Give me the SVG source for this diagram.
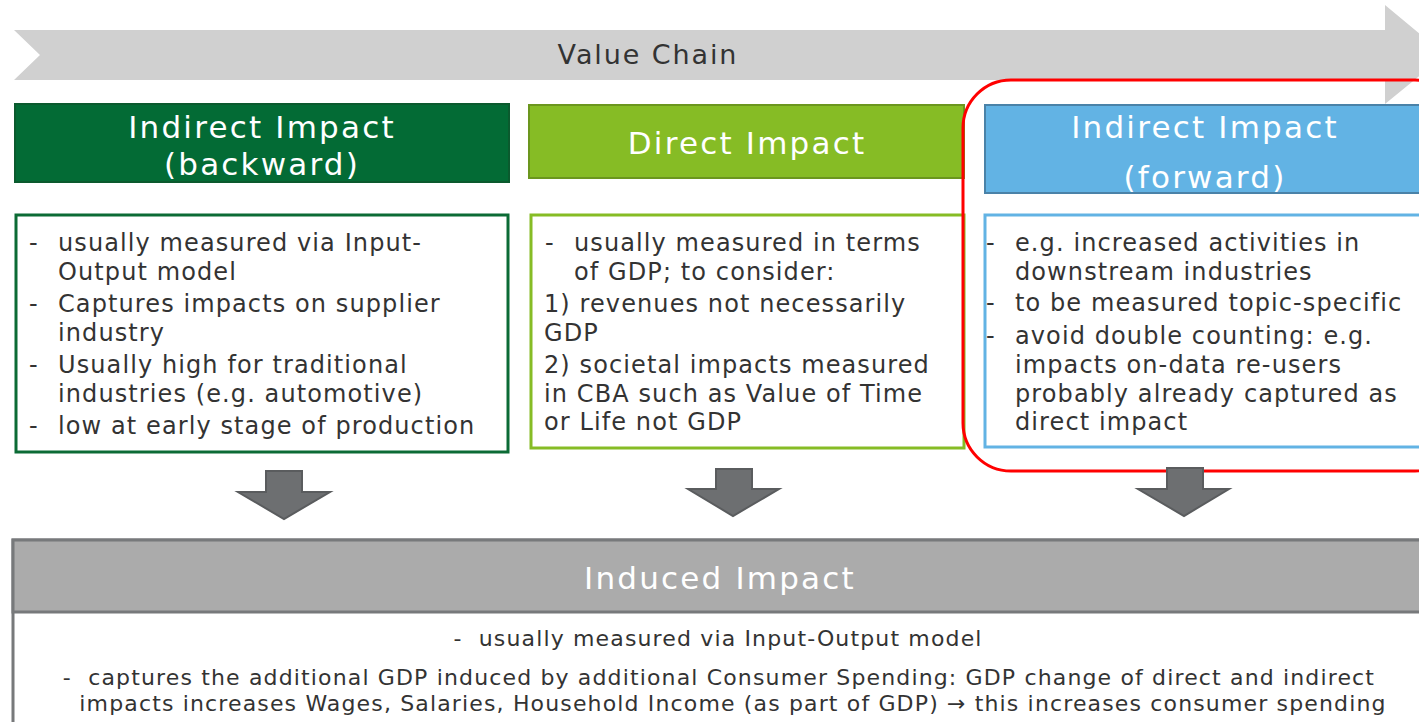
<svg xmlns="http://www.w3.org/2000/svg" width="1419" height="722" viewBox="0 0 1419 722">
<style>
  .t{font-family:"DejaVu Sans","Verdana",sans-serif;}
  .hd{font-family:"DejaVu Sans","Verdana",sans-serif;font-size:31px;letter-spacing:2.2px;fill:#ffffff;text-anchor:middle;}
  .bd{font-family:"DejaVu Sans","Verdana",sans-serif;font-size:24px;letter-spacing:1.1px;fill:#333333;}
  .ft{font-family:"DejaVu Sans","Verdana",sans-serif;font-size:22px;letter-spacing:1.15px;fill:#333333;text-anchor:middle;}
  .dn{fill:#6d6f71;stroke:#5a5c5e;stroke-width:2;}
</style>
<rect width="1419" height="722" fill="#ffffff"/>
<g id="value-chain">
  <polygon points="14,30 1385,30 1385,5 1445,55 1385,104 1385,80 14,80 40,55" fill="#d0d0d0"/>
  <text class="t" x="648" y="64" font-size="27" letter-spacing="1.9" fill="#333333" text-anchor="middle">Value Chain</text>
</g>
<g id="backward-header">
  <rect x="15" y="104" width="494" height="78" fill="#036b35" stroke="#0b5a2e" stroke-width="2"/>
  <text class="hd" x="262" y="138">Indirect Impact</text>
  <text class="hd" x="262" y="175">(backward)</text>
</g>
<g id="direct-header">
  <rect x="529" y="105" width="435" height="73" fill="#86bc25" stroke="#6b961e" stroke-width="2"/>
  <text class="hd" x="747" y="154">Direct Impact</text>
</g>
<g id="forward-header">
  <rect x="985" y="105" width="440" height="88" fill="#62b3e4" stroke="#4a82a8" stroke-width="2"/>
  <text class="hd" x="1205" y="138">Indirect Impact</text>
  <text class="hd" x="1205" y="188">(forward)</text>
</g>
<g id="backward-body">
  <rect x="16" y="215" width="492" height="237" fill="#ffffff" stroke="#0b6b35" stroke-width="3"/>
  <text class="bd"><tspan x="29" y="251">-</tspan><tspan x="58" y="251">usually measured via Input-</tspan><tspan x="58" y="280">Output model</tspan><tspan x="29" y="312">-</tspan><tspan x="58" y="312">Captures impacts on supplier</tspan><tspan x="58" y="341">industry</tspan><tspan x="29" y="373">-</tspan><tspan x="58" y="373">Usually high for traditional</tspan><tspan x="58" y="402">industries (e.g. automotive)</tspan><tspan x="29" y="434">-</tspan><tspan x="58" y="434">low at early stage of production</tspan></text>
</g>
<g id="direct-body">
  <rect x="531" y="215" width="433" height="233" fill="#ffffff" stroke="#86bc25" stroke-width="3"/>
  <text class="bd"><tspan x="545" y="251">-</tspan><tspan x="574" y="251">usually measured in terms</tspan><tspan x="574" y="280">of GDP; to consider:</tspan><tspan x="544" y="312">1) revenues not necessarily</tspan><tspan x="544" y="341">GDP</tspan><tspan x="544" y="373">2) societal impacts measured</tspan><tspan x="544" y="402">in CBA such as Value of Time</tspan><tspan x="544" y="430">or Life not GDP</tspan></text>
</g>
<g id="forward-body">
  <rect x="985" y="215" width="440" height="232" fill="#ffffff" stroke="#62b3e4" stroke-width="3"/>
  <text class="bd"><tspan x="986" y="251">-</tspan><tspan x="1015" y="251">e.g. increased activities in</tspan><tspan x="1015" y="280">downstream industries</tspan><tspan x="986" y="311">-</tspan><tspan x="1015" y="311">to be measured topic-specific</tspan><tspan x="986" y="344">-</tspan><tspan x="1015" y="344">avoid double counting: e.g.</tspan><tspan x="1015" y="373">impacts on-data re-users</tspan><tspan x="1015" y="402">probably already captured as</tspan><tspan x="1015" y="430">direct impact</tspan></text>
</g>
<g id="highlight">
  <rect x="963" y="80" width="500" height="391" rx="48" ry="48" fill="none" stroke="#ff0000" stroke-width="3"/>
</g>
<g id="connectors">
  <polygon class="dn" points="266,471 302,471 302,492 330,492 284,519 238,492 266,492"/>
  <polygon class="dn" points="716,469 752,469 752,489 779,489 733,516 688,489 716,489"/>
  <polygon class="dn" points="1167,468 1203,468 1203,489 1229,489 1184,516 1138,489 1167,489"/>
</g>
<g id="induced">
  <rect x="13" y="540" width="1430" height="200" fill="#ffffff" stroke="#77797b" stroke-width="3"/>
  <rect x="13" y="540" width="1430" height="72" fill="#ababab" stroke="#77797b" stroke-width="3"/>
  <text class="hd" x="720" y="589">Induced Impact</text>
  <text class="ft" xml:space="preserve"><tspan x="718" y="646">-  usually measured via Input-Output model</tspan><tspan x="719" y="685">-  captures the additional GDP induced by additional Consumer Spending: GDP change of direct and indirect</tspan><tspan x="733" y="711">impacts increases Wages, Salaries, Household Income (as part of GDP) → this increases consumer spending</tspan></text>
</g>
</svg>
